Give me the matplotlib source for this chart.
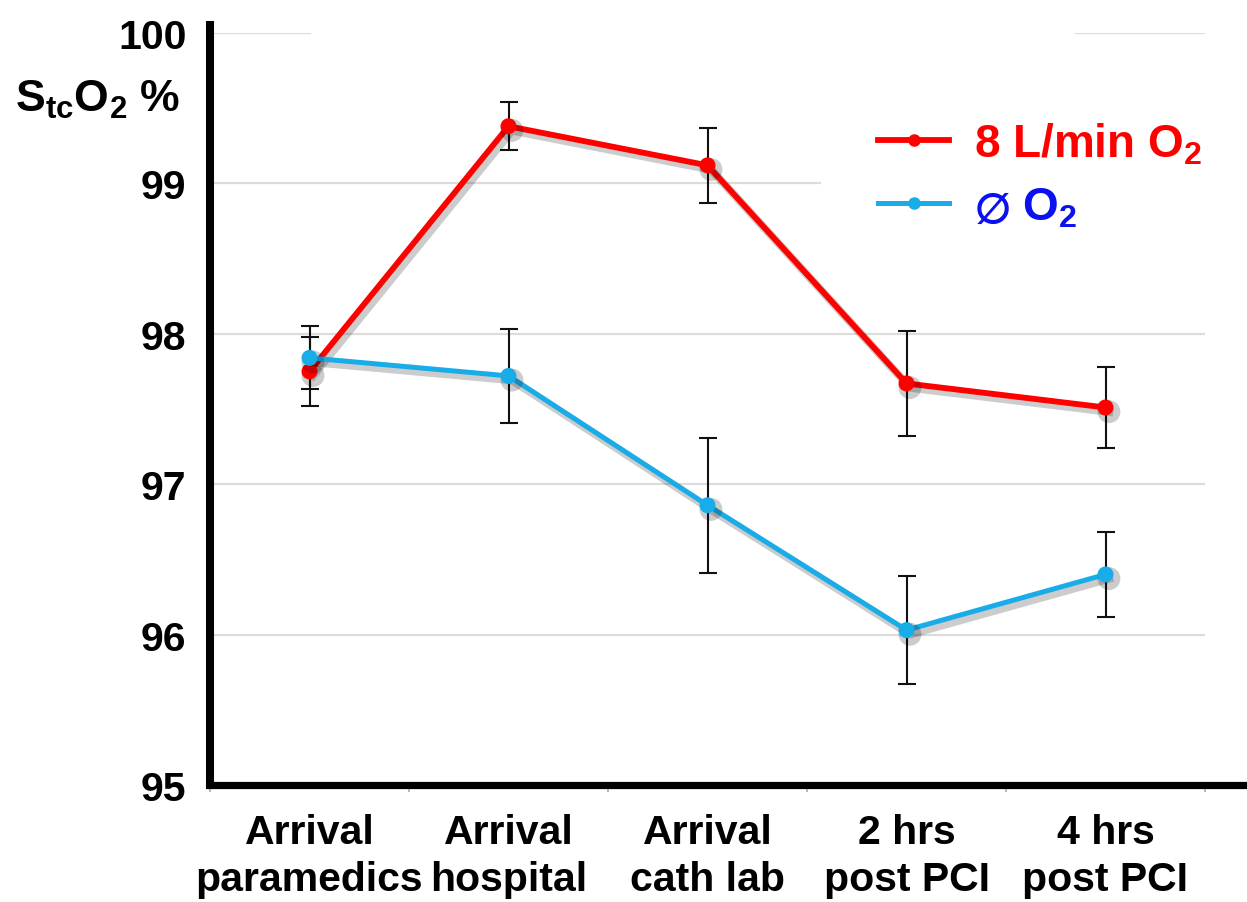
import matplotlib
matplotlib.use("Agg")
import matplotlib.pyplot as plt
import matplotlib.patheffects as pe
from matplotlib.font_manager import FontProperties
from matplotlib.lines import Line2D

plt.rcParams['font.family'] = ['Liberation Sans', 'DejaVu Sans']
plt.rcParams['font.weight'] = 'bold'
plt.rcParams['mathtext.fontset'] = 'custom'
plt.rcParams['mathtext.rm'] = 'Liberation Sans:bold'
plt.rcParams['mathtext.bf'] = 'Liberation Sans:bold'
plt.rcParams['mathtext.it'] = 'Liberation Sans:bold'
plt.rcParams['mathtext.fallback'] = 'stixsans'

# ---- data ----
categories = ["Arrival\nparamedics", "Arrival\nhospital", "Arrival\ncath lab",
              "2 hrs\npost PCI", "4 hrs\npost PCI"]
o2_mean = [97.75, 99.38, 99.12, 97.67, 97.51]
o2_err = [0.23, 0.16, 0.25, 0.35, 0.27]
no_o2_mean = [97.84, 97.72, 96.86, 96.03, 96.40]
no_o2_err = [0.21, 0.31, 0.45, 0.36, 0.28]
y_ticks = [95, 96, 97, 98, 99, 100]
series_labels = [r"8 L/min O$_\mathbf{2}$", r"$\varnothing$ O$_\mathbf{2}$"]

RED = "#ff0000"
BLUE = "#18ade8"
TEXT_BLUE = "#0a10f0"

W, H = 1247, 903
fig = plt.figure(figsize=(W / 100, H / 100), dpi=100)
ax = fig.add_axes([210 / W, 1 - 786 / H, 995 / W, (786 - 34) / H])

xs = [i + 0.5 for i in range(len(categories))]

# gridlines (partly hidden in the original)
grid_kw = dict(color="#dcdcdc", lw=1.6, zorder=0)
for v in y_ticks[1:4]:
    ax.axhline(v, **grid_kw)
ax.axhline(99, xmin=0, xmax=(820 - 210) / 995, **grid_kw)
ax.axhline(100, xmin=0, xmax=(310 - 210) / 995, **grid_kw)
ax.axhline(100, xmin=(1076 - 210) / 995, xmax=1, **grid_kw)

shadow = [pe.SimpleLineShadow(offset=(2.5, -3), shadow_color="k", alpha=0.2, linewidth=6),
          pe.Normal()]

ax.errorbar(xs, o2_mean, yerr=o2_err, fmt="none", ecolor="#111111",
            elinewidth=1.5, capsize=6.5, capthick=1.5, zorder=2)
ax.errorbar(xs, no_o2_mean, yerr=no_o2_err, fmt="none", ecolor="#111111",
            elinewidth=1.5, capsize=6.5, capthick=1.5, zorder=2)

l1, = ax.plot(xs, o2_mean, color=RED, lw=4.2, marker="o", markersize=10.5,
              zorder=3, path_effects=shadow)
l2, = ax.plot(xs, no_o2_mean, color=BLUE, lw=3.6, marker="o", markersize=10.5,
              zorder=4, path_effects=shadow)

ax.set_xlim(0, 5)
ax.set_ylim(95, 100)
ax.set_yticks(y_ticks)
ax.set_yticklabels([str(v) for v in y_ticks])
ax.set_xticks(xs)
ax.set_xticklabels(categories, linespacing=1.3)
ax.set_xticks(range(0, 6), minor=True)

ax.tick_params(axis="y", length=0, pad=17, labelsize=29.5)
ax.tick_params(axis="x", which="major", length=0, pad=20, labelsize=29.5)
ax.tick_params(axis="x", which="minor", length=5, width=1.2, color="#aaaaaa", direction="out")

for s in ["top", "right"]:
    ax.spines[s].set_visible(False)
ax.spines["left"].set_linewidth(5.8)
ax.spines["bottom"].set_linewidth(5.2)
ax.spines["left"].set_bounds(95, 100.05)
ax.spines["bottom"].set_bounds(0, 5.22)
ax.spines["left"].set_capstyle("projecting")
ax.spines["bottom"].set_capstyle("projecting")

fig.text(15 / W, 1 - 100 / H, r"S$_\mathbf{tc}$O$_\mathbf{2}$ %", fontsize=32,
         fontweight="bold", ha="left", va="center")

# legend
h1 = Line2D([], [], color=RED, lw=4.2, marker="o", markersize=8)
h2 = Line2D([], [], color=BLUE, lw=3.6, marker="o", markersize=8)
leg = ax.legend([h1, h2], series_labels, loc="center left",
                bbox_to_anchor=(878 / W, 1 - 176 / H), bbox_transform=fig.transFigure,
                frameon=False, borderpad=0, borderaxespad=0, handlelength=1.55,
                handletextpad=0.55, labelspacing=0.42,
                prop=FontProperties(family=["Liberation Sans", "DejaVu Sans"],
                                    weight="bold", size=33),
                labelcolor=[RED, TEXT_BLUE])

fig.savefig("out.png", dpi=100)
